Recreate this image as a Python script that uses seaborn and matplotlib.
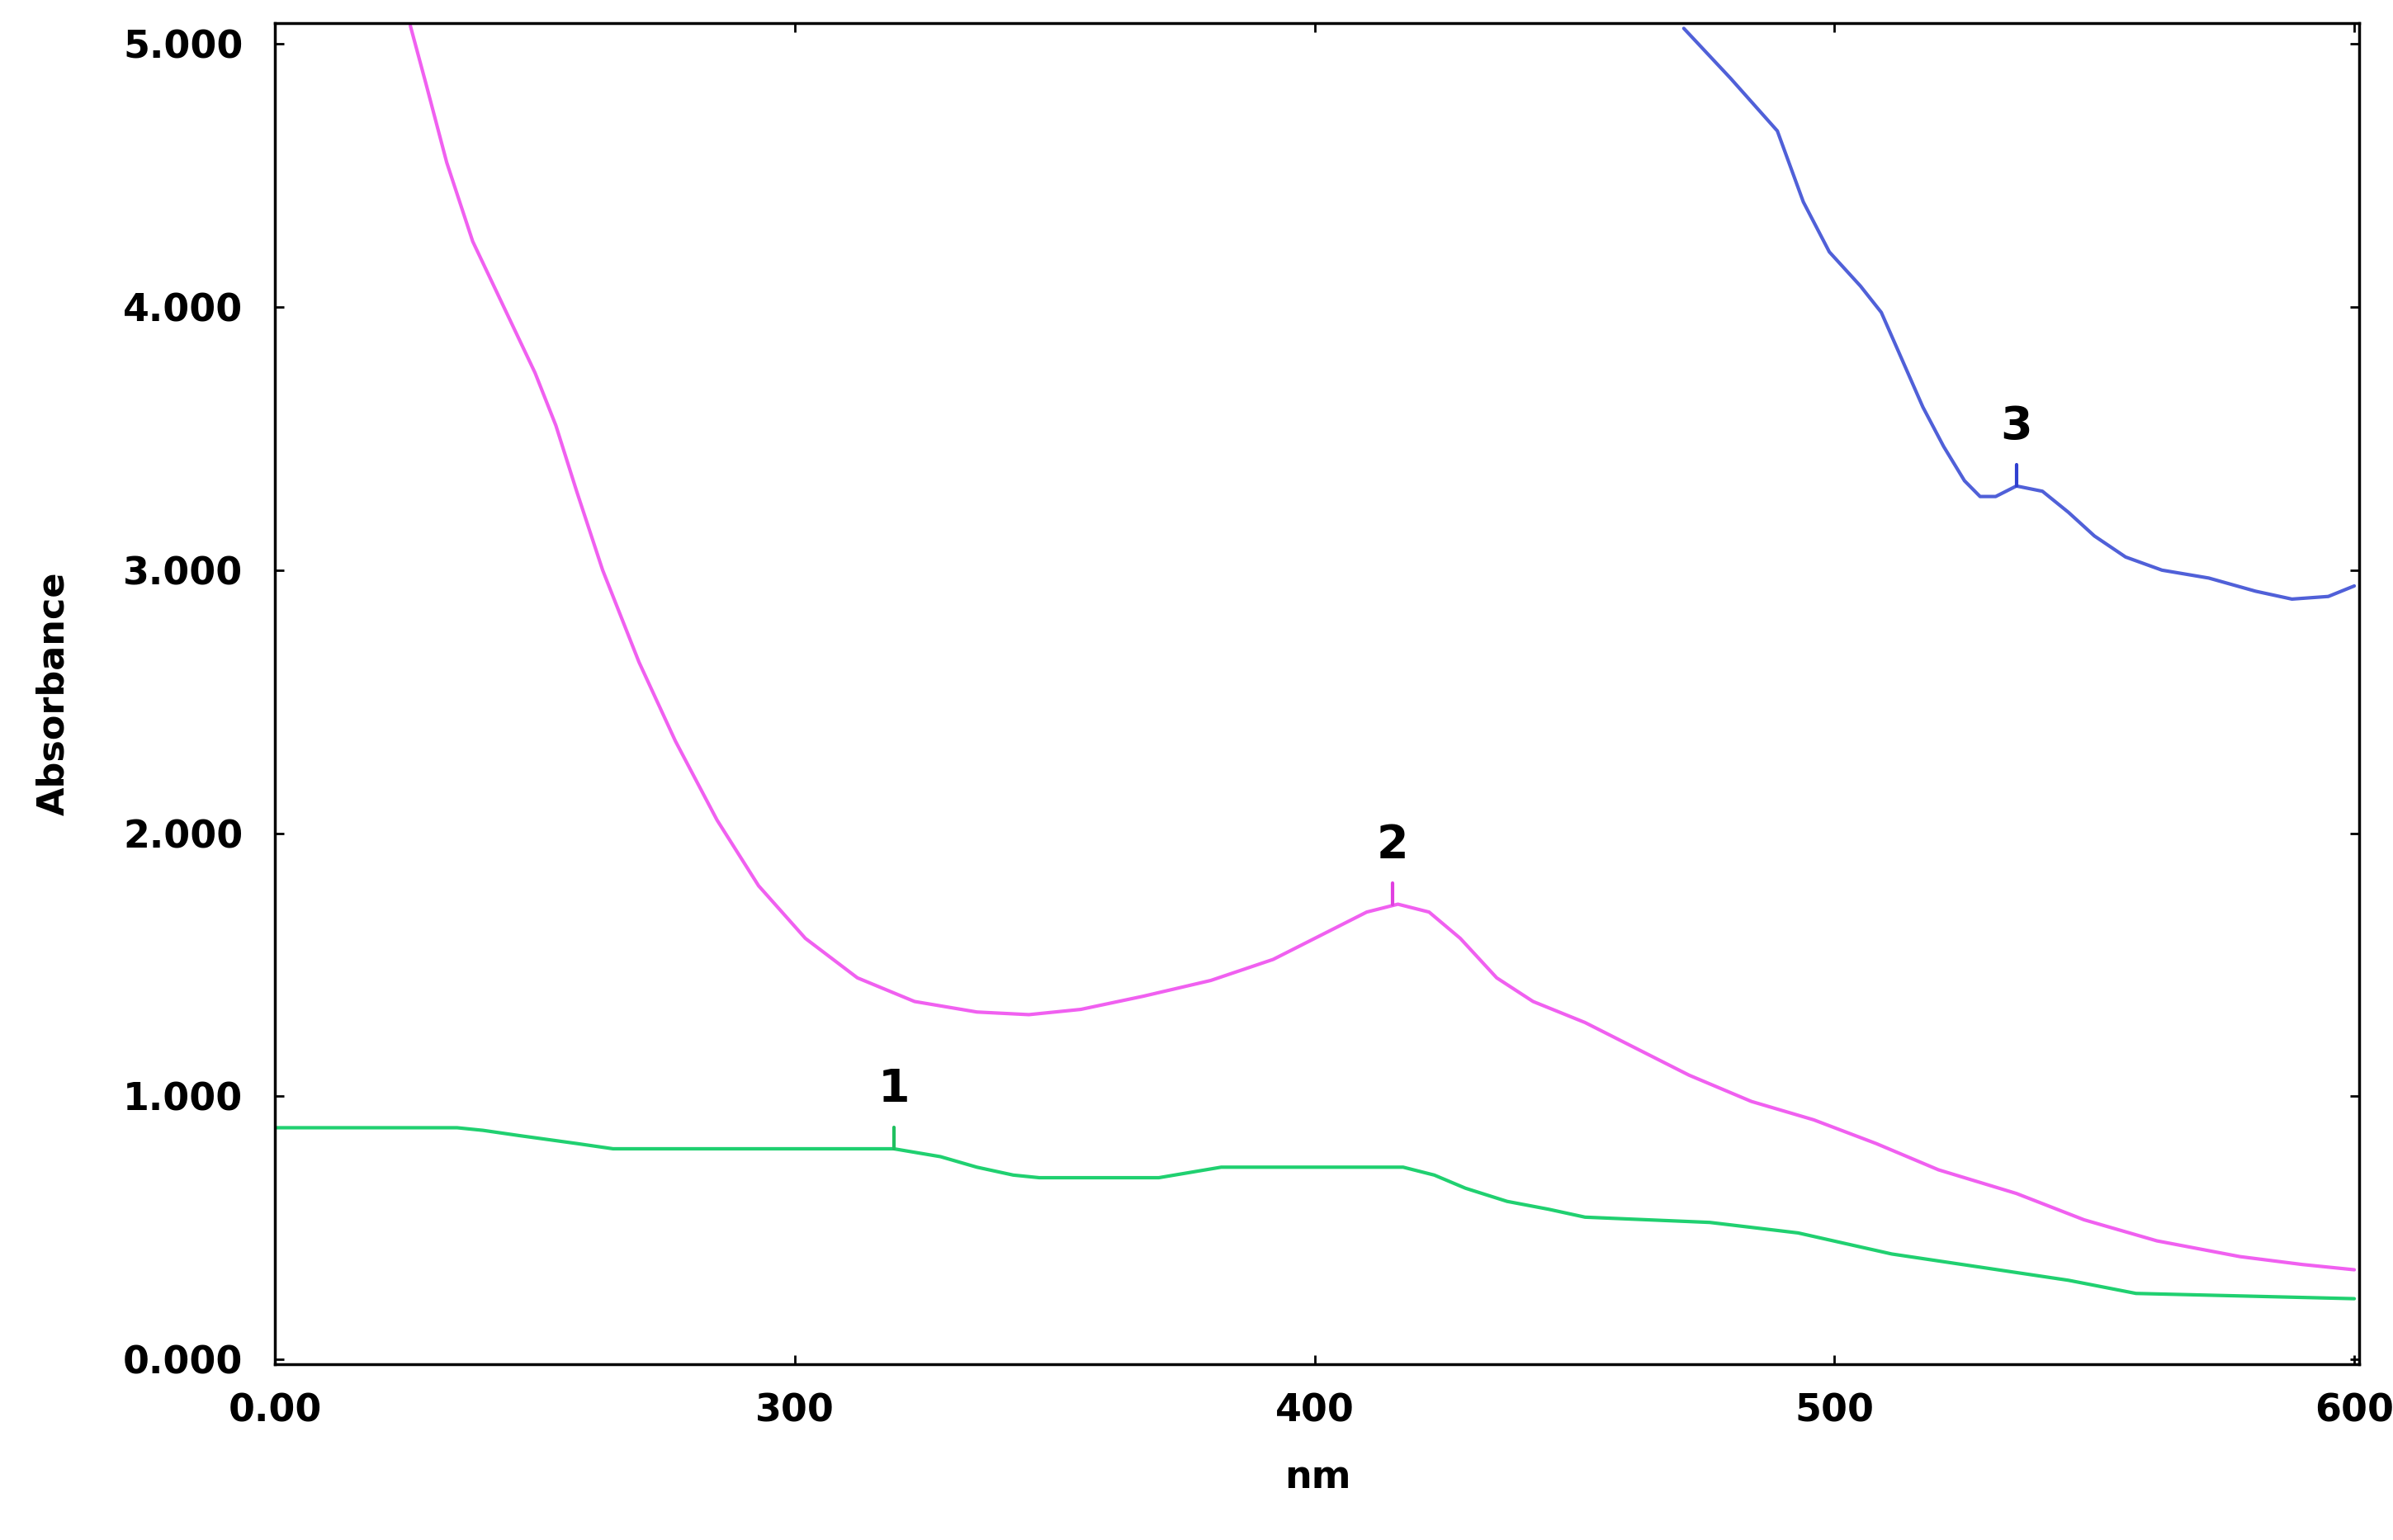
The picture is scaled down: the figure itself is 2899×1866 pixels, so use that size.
import numpy as np
import pandas as pd
import matplotlib
matplotlib.use("Agg")
import matplotlib.pyplot as plt
import seaborn as sb

# spectra (nm, absorbance)
pink_nm = [226, 229, 233, 238, 244, 250, 254, 258, 263, 270, 277, 285, 293, 302, 312, 323, 335, 345, 355, 367, 380, 392, 402, 410, 416, 422, 428, 435, 442, 452, 462, 472, 484, 496, 508, 520, 535, 548, 562, 578, 590, 600]
pink_abs = [5.07, 4.85, 4.55, 4.25, 4.00, 3.75, 3.55, 3.30, 3.00, 2.65, 2.35, 2.05, 1.80, 1.60, 1.45, 1.36, 1.32, 1.31, 1.33, 1.38, 1.44, 1.52, 1.62, 1.70, 1.73, 1.70, 1.60, 1.45, 1.36, 1.28, 1.18, 1.08, 0.98, 0.91, 0.82, 0.72, 0.63, 0.53, 0.45, 0.39, 0.36, 0.34]
blue_nm = [471, 480, 489, 494, 499, 505, 509, 513, 517, 521, 525, 528, 531, 535, 540, 545, 550, 556, 563, 572, 581, 588, 595, 600]
blue_abs = [5.06, 4.87, 4.67, 4.40, 4.21, 4.08, 3.98, 3.80, 3.62, 3.47, 3.34, 3.28, 3.28, 3.32, 3.30, 3.22, 3.13, 3.05, 3.00, 2.97, 2.92, 2.89, 2.90, 2.94]
green_nm = [200, 235, 240, 247, 258, 265, 300, 319, 328, 335, 342, 347, 370, 376, 382, 417, 423, 429, 437, 445, 452, 476, 493, 511, 528, 545, 558, 600]
green_abs = [0.88, 0.88, 0.87, 0.85, 0.82, 0.80, 0.80, 0.80, 0.77, 0.73, 0.70, 0.69, 0.69, 0.71, 0.73, 0.73, 0.70, 0.65, 0.60, 0.57, 0.54, 0.52, 0.48, 0.40, 0.35, 0.30, 0.25, 0.23]

peak_labels = ["1", "2", "3"]
peak_nm = [319, 415, 535]
peak_abs = [0.80, 1.73, 3.32]

x_ticks = [200, 300, 400, 500, 600]
x_ticklabels = ["0.00", "300", "400", "500", "600"]
y_ticks = [0, 1, 2, 3, 4, 5]
y_ticklabels = ["0.000", "1.000", "2.000", "3.000", "4.000", "5.000"]

sb.set_style("ticks")
plt.rcParams["font.family"] = ["DejaVu Sans"]
plt.rcParams["font.weight"] = "bold"

fig = plt.figure(figsize=(28.99, 18.66), dpi=100)
ax = fig.add_axes([0.115, 0.114, 0.871, 0.871])

for nm, ab, col in [(pink_nm, pink_abs, "#f060f0"), (blue_nm, blue_abs, "#5060d8"), (green_nm, green_abs, "#20d070")]:
    df = pd.DataFrame({"nm": nm, "abs": ab})
    sb.lineplot(data=df, x="nm", y="abs", ax=ax, color=col, linewidth=3)

cols = ["#20c060", "#e040e0", "#3040d0"]
for lab, xn, ya, c in zip(peak_labels, peak_nm, peak_abs, cols):
    ax.plot([xn, xn], [ya, ya + 0.08], color=c, linewidth=3)
    ax.text(xn, ya + 0.14, lab, ha="center", va="bottom", fontsize=40, fontweight="bold", color="black")

ax.set_xlim(200, 601)
ax.set_ylim(-0.02, 5.08)
ax.set_xticks(x_ticks)
ax.set_xticklabels(x_ticklabels)
ax.set_yticks(y_ticks)
ax.set_yticklabels(y_ticklabels)
ax.tick_params(labelsize=33, length=8, width=2, right=True, top=True, direction="in",
               colors="black", labelcolor="black")
ax.tick_params(axis="x", pad=25)
ax.tick_params(axis="y", pad=28)
for s in ax.spines.values():
    s.set_linewidth(2.5)
    s.set_color("black")
ax.set_xlabel("nm", fontsize=33, fontweight="bold", labelpad=25, color="black")
ax.set_ylabel("Absorbance", fontsize=32, fontweight="bold", labelpad=45, color="black")

plt.savefig("out.png", dpi=100)
